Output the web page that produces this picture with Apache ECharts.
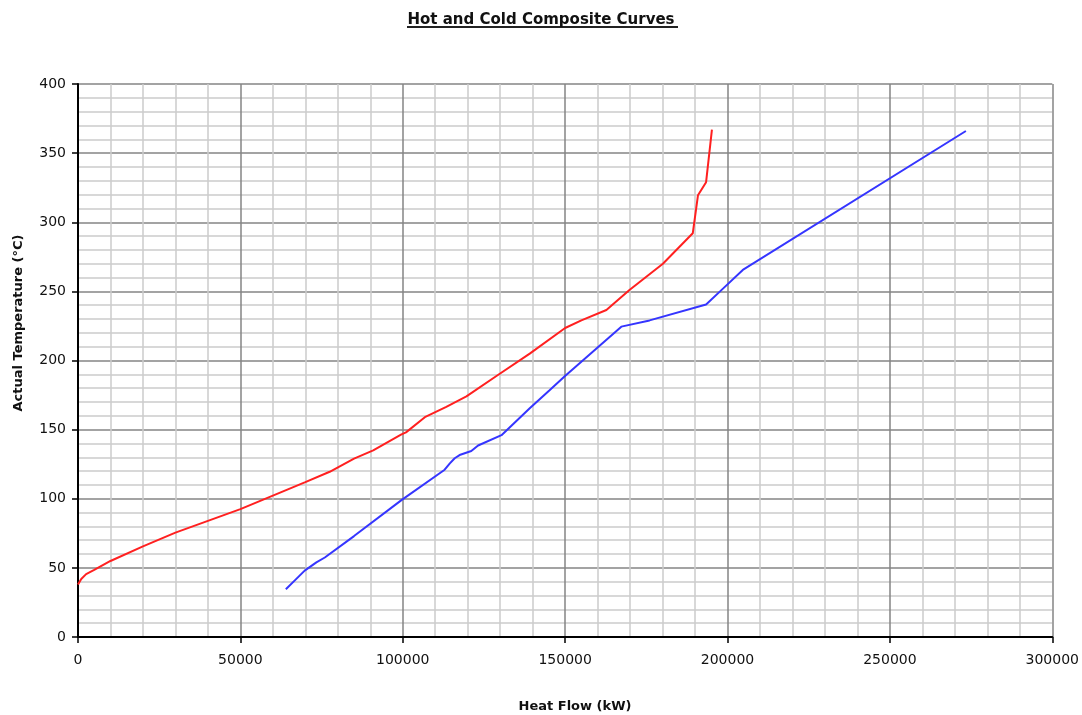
<!DOCTYPE html>
<html>
<head>
<meta charset="utf-8">
<script src="https://cdn.jsdelivr.net/npm/echarts@6/dist/echarts.min.js"></script>
<style>
html,body{margin:0;padding:0;background:#fff;}
#chart{width:1082px;height:715px;}
</style>
</head>
<body>
<div id="chart"></div>
<script>
// Hot composite curve (Heat Flow kW, Temperature °C)
const hotX = [0, 1000, 2500, 5000, 10000, 20000, 30000, 50000, 70000, 77500, 85000, 90900, 99600, 101000, 106800, 113400, 119600, 129300, 139100, 150000, 155000, 162700, 169800, 180100, 189300, 190900, 193400, 195200];
const hotY = [38, 42, 45.5, 48.5, 55, 65.5, 75.5, 92.5, 112, 119.5, 129, 135, 146.5, 148, 159, 166.5, 174, 189.5, 205, 223.5, 229, 236.5, 251, 270, 292, 319.5, 329, 367];
// Cold composite curve
const coldX = [64000, 67000, 69800, 73400, 76000, 85000, 99600, 112900, 114500, 116000, 117500, 121100, 123200, 130400, 139100, 145200, 149800, 167300, 176000, 193400, 198600, 204700, 273400];
const coldY = [34.5, 41.5, 48, 54, 57.5, 73, 99, 121, 125.6, 129.3, 131.6, 134.5, 138.5, 146, 165.5, 178.5, 188.5, 224.5, 229, 240.5, 252, 265.5, 366];

const xTicks = {min: 0, max: 300000, interval: 50000};
const yTicks = {min: 0, max: 400, interval: 50};

const titleText = 'Hot and Cold Composite Curves';
const xName = 'Heat Flow (kW)';
const yName = 'Actual Temperature (°C)';

const zip = (xs, ys) => xs.map((x, i) => [x, ys[i]]);

const FONT = '"DejaVu Sans", Verdana, sans-serif';
const chart = echarts.init(document.getElementById('chart'), null, {renderer: 'canvas'});

function axisCommon() {
  return {
    type: 'value',
    axisLine: {show: true, lineStyle: {color: '#000', width: 2}},
    axisTick: {show: true, inside: false, length: 6, lineStyle: {color: '#000', width: 1.5}},
    minorTick: {show: false, splitNumber: 5},
    splitLine: {show: true, showMinLine: false, lineStyle: {color: '#858585', width: 1.5}},
    minorSplitLine: {show: true, lineStyle: {color: '#cccccc', width: 1.5}},
    axisLabel: {color: '#111', fontFamily: FONT, fontSize: 14, formatter: v => String(v)}
  };
}

const xAxis = Object.assign(axisCommon(), xTicks);
xAxis.axisLabel = Object.assign(xAxis.axisLabel, {margin: 16});
const yAxis = Object.assign(axisCommon(), yTicks);
yAxis.axisLabel = Object.assign(yAxis.axisLabel, {margin: 12});

chart.setOption({
  animation: false,
  backgroundColor: '#fff',
  title: {
    text: titleText,
    left: 'center',
    top: 8,
    textStyle: {fontFamily: FONT, fontSize: 15, fontWeight: 'bold', color: '#111'}
  },
  grid: {left: 78, right: 29, top: 84, bottom: 78, containLabel: false},
  xAxis: xAxis,
  yAxis: yAxis,
  graphic: [
    {type: 'line', shape: {x1: 407, y1: 27, x2: 678, y2: 27}, style: {stroke: '#222', lineWidth: 2}},
    {type: 'text', x: 575, y: 707, style: {text: xName, font: 'bold 13px ' + FONT, fill: '#111', textAlign: 'center', textVerticalAlign: 'middle'}},
    {type: 'text', x: 19, y: 323, rotation: Math.PI / 2, style: {text: yName, font: 'bold 13px ' + FONT, fill: '#111', textAlign: 'center', textVerticalAlign: 'middle'}}
  ],
  series: [
    {name: 'Hot', type: 'line', data: zip(hotX, hotY), showSymbol: false, smooth: false,
     lineStyle: {color: '#ff2020', width: 2}, z: 3},
    {name: 'Cold', type: 'line', data: zip(coldX, coldY), showSymbol: false, smooth: false,
     lineStyle: {color: '#3535ff', width: 2}, z: 3}
  ]
});
</script>
</body>
</html>
